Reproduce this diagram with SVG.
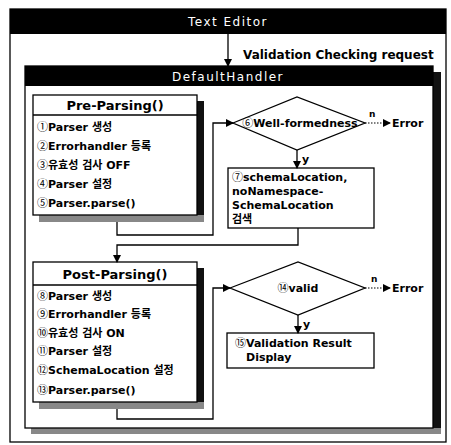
<svg xmlns="http://www.w3.org/2000/svg" width="451" height="445" viewBox="0 0 451 445">
<defs>
<style>
.t{font-family:"DejaVu Sans","Noto Sans CJK KR",sans-serif;font-weight:bold;font-size:11px;fill:#000}
.c{font-family:"Noto Sans CJK KR",sans-serif;font-weight:normal}
.h{font-family:"DejaVu Sans","Noto Sans CJK KR",sans-serif;font-size:12px;fill:#fff;letter-spacing:1.5px}
.hd{font-family:"DejaVu Sans","Noto Sans CJK KR",sans-serif;font-weight:bold;font-size:13px;fill:#000}
.sm{font-size:9px}
.lb{font-size:12px}
.box{fill:#fff;stroke:#000;stroke-width:1.3}
.ln{fill:none;stroke:#000;stroke-width:1.3}
.dot{fill:none;stroke:#000;stroke-width:1.2;stroke-dasharray:1.5 1.5}
.sh{fill:#111}
.shb{fill:#888}
</style>
<marker id="ar" markerWidth="8" markerHeight="8" refX="7" refY="4" orient="auto" markerUnits="userSpaceOnUse">
<path d="M0,0 L8,4 L0,8 z" fill="#000"/>
</marker>
</defs>
<rect width="451" height="445" fill="#fff"/>

<g id="text-editor">
<rect x="10" y="9" width="436" height="433" class="box"/>
<rect x="10" y="9" width="436" height="25" fill="#000"/>
<text x="228" y="26" class="h" text-anchor="middle">Text Editor</text>
</g>

<g id="default-handler">
<rect x="433" y="72" width="8" height="362" class="sh"/>
<rect x="31" y="428" width="410" height="6" class="shb"/>
<rect x="25" y="66" width="408" height="362" class="box"/>
<rect x="25" y="66" width="408" height="20" fill="#000"/>
<text x="228" y="81" class="h" text-anchor="middle">DefaultHandler</text>
</g>

<g id="pre-parsing">
<rect x="197" y="101" width="7" height="121" class="sh"/>
<rect x="39" y="215" width="165" height="7" class="shb"/>
<rect x="33" y="95" width="164" height="120" class="box"/>
<line x1="33" y1="115" x2="197" y2="115" class="ln"/>
<text x="115" y="110" class="hd" text-anchor="middle">Pre-Parsing()</text>
<text x="37" y="131" class="t"><tspan class="c">①</tspan>Parser 생성</text>
<text x="37" y="150" class="t"><tspan class="c">②</tspan>Errorhandler 등록</text>
<text x="37" y="169" class="t"><tspan class="c">③</tspan>유효성 검사 OFF</text>
<text x="37" y="188" class="t"><tspan class="c">④</tspan>Parser 설정</text>
<text x="37" y="207" class="t"><tspan class="c">⑤</tspan>Parser.parse()</text>
</g>

<g id="well-formedness">
<polygon points="233,123 297,97 365,123 297,150" class="box"/>
<text x="300" y="127" class="t" text-anchor="middle"><tspan class="c">⑥</tspan>Well-formedness</text>
</g>

<g id="error1">
<text x="392" y="127" class="t">Error</text>
</g>

<g id="schema-location">
<rect x="228" y="168" width="146" height="60" class="box"/>
<text x="232" y="181" class="t"><tspan class="c">⑦</tspan>schemaLocation,</text>
<text x="232" y="195" class="t">noNamespace-</text>
<text x="232" y="209" class="t">SchemaLocation</text>
<text x="232" y="223" class="t">검색</text>
</g>

<g id="post-parsing">
<rect x="197" y="268" width="7" height="141" class="sh"/>
<rect x="39" y="402" width="165" height="7" class="shb"/>
<rect x="33" y="262" width="164" height="140" class="box"/>
<line x1="33" y1="285" x2="197" y2="285" class="ln"/>
<text x="115" y="279" class="hd" text-anchor="middle">Post-Parsing()</text>
<text x="37" y="300" class="t"><tspan class="c">⑧</tspan>Parser 생성</text>
<text x="37" y="318" class="t"><tspan class="c">⑨</tspan>Errorhandler 등록</text>
<text x="37" y="337" class="t"><tspan class="c">⑩</tspan>유효성 검사 ON</text>
<text x="37" y="355" class="t"><tspan class="c">⑪</tspan>Parser 설정</text>
<text x="37" y="374" class="t"><tspan class="c">⑫</tspan>SchemaLocation 설정</text>
<text x="37" y="394" class="t"><tspan class="c">⑬</tspan>Parser.parse()</text>
</g>

<g id="valid">
<polygon points="230,288 298,262 365,288 298,315" class="box"/>
<text x="298" y="292" class="t" text-anchor="middle"><tspan class="c">⑭</tspan>valid</text>
</g>

<g id="error2">
<text x="392" y="292" class="t">Error</text>
</g>

<g id="result-display">
<rect x="227" y="333" width="147" height="35" class="box"/>
<text x="235" y="347" class="t"><tspan class="c">⑮</tspan>Validation Result</text>
<text x="246" y="361" class="t">Display</text>
</g>

<g id="connectors">
<line x1="228" y1="34" x2="228" y2="66" class="ln" marker-end="url(#ar)"/>
<text x="243" y="59" class="t lb">Validation Checking request</text>
<path d="M117 222 V235 H213 V123 H233" class="ln" marker-end="url(#ar)"/>
<line x1="297" y1="150" x2="297" y2="168" class="ln" marker-end="url(#ar)"/>
<text x="302" y="163" class="t">y</text>
<line x1="365" y1="123" x2="390" y2="123" class="dot" marker-end="url(#ar)"/>
<text x="369" y="117" class="t sm">n</text>
<path d="M298 228 V245 H117 V262" class="ln" marker-end="url(#ar)"/>
<path d="M117 409 V419 H213 V288 H230" class="ln" marker-end="url(#ar)"/>
<line x1="298" y1="315" x2="298" y2="333" class="ln" marker-end="url(#ar)"/>
<text x="303" y="328" class="t">y</text>
<line x1="365" y1="288" x2="390" y2="288" class="dot" marker-end="url(#ar)"/>
<text x="371" y="282" class="t sm">n</text>
</g>
</svg>
